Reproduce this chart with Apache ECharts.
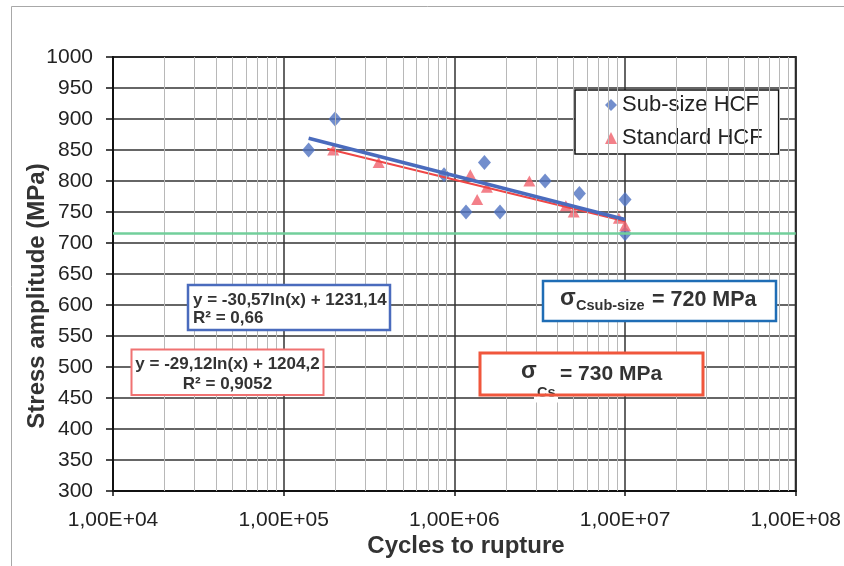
<!DOCTYPE html>
<html><head><meta charset="utf-8">
<script src="https://cdn.jsdelivr.net/npm/echarts@6/dist/echarts.min.js"></script>
<style>html,body{margin:0;padding:0;background:#fff}#c{width:844px;height:566px}</style>
</head><body><div id="c"></div>
<script>
// ---- data ----
const seriesNames = ['Sub-size HCF', 'Standard HCF'];
const subX = [1.4e5, 2.0e5, 8.7e5, 1.17e6, 1.5e6, 1.85e6, 3.4e6, 5.4e6, 1.0e7, 1.0e7];
const subY = [850, 900, 810, 750, 830, 750, 800, 780, 770, 715];
const stdX = [1.95e5, 3.6e5, 1.24e6, 1.36e6, 1.55e6, 2.75e6, 4.5e6, 5.0e6, 9.2e6, 1.0e7];
const stdY = [850, 830, 810, 770, 790, 800, 760, 750, 740, 728];
const subTrendX = [1.4e5, 1.0e7];
const subTrendY = [869, 738];
const stdTrendX = [1.8e5, 1.0e7];
const stdTrendY = [852, 735];
const limitLine = 715;
const xTickLabels = ['1,00E+04', '1,00E+05', '1,00E+06', '1,00E+07', '1,00E+08'];
const xDecades = [1e4, 1e5, 1e6, 1e7];
const yMin = 300, yMax = 1000, yStep = 50;
const eqSub = ['y = -30,57ln(x) + 1231,14', 'R² = 0,66'];
const eqStd = ['y = -29,12ln(x) + 1204,2', 'R² = 0,9052'];
const xTitle = 'Cycles to rupture';
const yTitle = 'Stress amplitude (MPa)';

// ---- build ----
const FF = "'Liberation Sans', Arial, Helvetica, sans-serif";
const zip = (a, b) => a.map((v, i) => [v, b[i]]);
const minorVals = [];
xDecades.forEach(d => { for (let m = 2; m <= 9; m++) minorVals.push(d * m); });

function txt(t, x, y, size, opts) {
  opts = opts || {};
  return {
    type: 'text', z: opts.z || 110, x: x, y: y, rotation: opts.rotation || 0,
    style: {
      text: t, x: 0, y: 0,
      font: (opts.bold === false ? '' : 'bold ') + size + 'px ' + FF,
      fill: opts.color || '#333',
      align: opts.align || 'left', verticalAlign: 'middle',
      textAlign: opts.align || 'left', textVerticalAlign: 'middle'
    }
  };
}
function box(x, y, w, h, color, lw, z) {
  return { type: 'rect', z: z || 100, shape: { x: x, y: y, width: w, height: h },
    style: { fill: 'none', stroke: color, lineWidth: lw } };
}
function fillRect(x, y, w, h, z) {
  return { type: 'rect', z: z || 99, shape: { x: x, y: y, width: w, height: h },
    style: { fill: '#fff', stroke: 'none' } };
}

const chart = echarts.init(document.getElementById('c'), null, { renderer: 'canvas' });
chart.setOption({
  animation: false,
  backgroundColor: '#fff',
  grid: { left: 113, right: 47, top: 57, bottom: 75, show: true, borderColor: '#111', borderWidth: 2, backgroundColor: 'transparent' },
  legend: {
    data: seriesNames, orient: 'vertical', left: 575, top: 90,
    padding: [3, 16, 4, 30], itemGap: 9, itemWidth: 12, itemHeight: 12,
    borderColor: '#111', borderWidth: 1.5, backgroundColor: '#fff',
    textStyle: { fontSize: 22, color: '#222', fontFamily: FF, lineHeight: 24 },
    selectedMode: false
  },
  xAxis: {
    type: 'log', logBase: 10, min: 1e4, max: 1e8,
    axisLine: { show: true, lineStyle: { color: '#111', width: 2 } },
    axisTick: { show: true, length: 5, lineStyle: { color: '#111', width: 1.5 } },
    axisLabel: { fontSize: 21, color: '#222', fontFamily: FF, margin: 19,
      formatter: v => xTickLabels[Math.round(Math.log10(v)) - 4] },
    splitLine: { show: true, lineStyle: { color: '#333', width: 1.5 } }
  },
  yAxis: {
    type: 'value', min: yMin, max: yMax, interval: yStep,
    axisLine: { show: true, lineStyle: { color: '#111', width: 2 } },
    axisTick: { show: true, length: 7, lineStyle: { color: '#111', width: 1.5 } },
    axisLabel: { fontSize: 21, color: '#222', fontFamily: FF, margin: 20, formatter: v => String(v) },
    splitLine: { show: true, lineStyle: { color: '#333', width: 1.5 } }
  },
  series: [
    { type: 'line', name: 'minor', data: [], silent: true, z: 1,
      markLine: { silent: true, symbol: ['none', 'none'], label: { show: false },
        lineStyle: { color: '#b8b8b8', width: 1, type: 'solid' },
        data: minorVals.map(v => ({ xAxis: v })) } },
    { type: 'scatter', name: seriesNames[0], data: zip(subX, subY), symbol: 'diamond', symbolSize: [13, 15],
      itemStyle: { color: '#4f72c0' }, z: 3,
      markLine: { silent: true, symbol: ['none', 'none'], label: { show: false },
        lineStyle: { color: '#72cf9b', width: 2.5, type: 'solid' }, data: [{ yAxis: limitLine }] } },
    { type: 'scatter', name: seriesNames[1], data: zip(stdX, stdY), symbol: 'triangle', symbolSize: [12, 11],
      itemStyle: { color: '#f0606b' }, z: 3 },
    { type: 'line', name: 'trendStd', data: zip(stdTrendX, stdTrendY), showSymbol: false, symbol: 'none',
      lineStyle: { color: '#ef4646', width: 2 }, z: 4 },
    { type: 'line', name: 'trendSub', data: zip(subTrendX, subTrendY), showSymbol: false, symbol: 'none',
      lineStyle: { color: '#4a6bbd', width: 3.5 }, z: 5 }
  ],
  graphic: { elements: [
    // outer frame
    { type: 'line', z: 50, shape: { x1: 11.5, y1: 6.5, x2: 844, y2: 6.5 }, style: { stroke: '#a8a8a8', lineWidth: 1 } },
    { type: 'line', z: 50, shape: { x1: 11.5, y1: 6.5, x2: 11.5, y2: 566 }, style: { stroke: '#a8a8a8', lineWidth: 1 } },
    // axis titles
    txt(xTitle, 466, 546, 24, { align: 'center', color: '#333' }),
    txt(yTitle, 37, 296, 24, { align: 'center', color: '#333', rotation: Math.PI / 2 }),
    // sub-size equation box
    fillRect(188, 285, 202, 45),
    box(188, 285, 202, 45, '#4a6bbd', 2.5),
    txt(eqSub[0], 193, 300, 17, { color: '#333' }),
    txt(eqSub[1], 193, 318, 17, { color: '#333' }),
    // standard equation box
    fillRect(131.5, 349.5, 192, 45.5),
    box(131.5, 349.5, 192, 45.5, '#f07272', 2),
    txt(eqStd[0], 227.5, 364, 17, { align: 'center', color: '#333' }),
    txt(eqStd[1], 227.5, 384, 17, { align: 'center', color: '#333' }),
    // sigma sub-size box
    fillRect(543, 281, 233, 40),
    box(543, 281, 233, 40, '#1f6db5', 2.5),
    txt('σ', 560, 299, 23, { color: '#333' }),
    txt('Csub-size', 576, 306, 14.5, { color: '#333' }),
    txt('= 720 MPa', 652, 300, 21.5, { color: '#333' }),
    // sigma Cs box
    fillRect(480, 353, 223, 42),
    txt('σ', 521, 372, 23, { color: '#333' }),
    txt('Cs', 537, 393, 14.5, { color: '#333' }),
    txt('= 730 MPa', 560, 374, 21, { color: '#333' }),
    fillRect(534, 396.5, 24, 6, 115),
    box(480, 353, 223, 42, '#f0563c', 3, 116)
  ] }
});
</script>
</body></html>
